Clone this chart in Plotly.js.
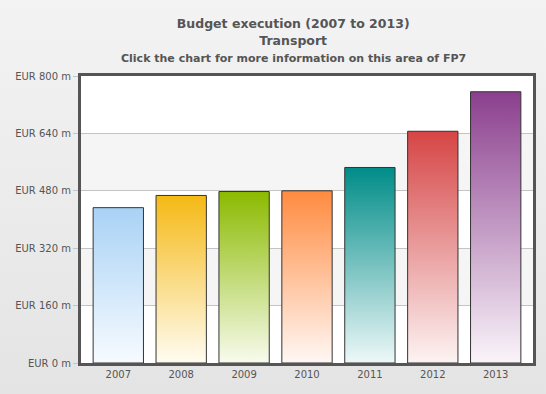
<!DOCTYPE html>
<html><head><meta charset="utf-8">
<script src="https://cdn.plot.ly/plotly-3.0.1.min.js"></script>
<style>
html,body{margin:0;padding:0;}
body{width:546px;height:394px;background:linear-gradient(to bottom,#f3f3f3 0%,#e4e4e4 100%);overflow:hidden;}
#chart{width:546px;height:394px;}
</style></head><body>
<div id="chart"></div>
<script>
const years = ['2007','2008','2009','2010','2011','2012','2013'];
const budget = [433, 467, 478, 480, 545, 646, 756];
const topColors = ['#a9d2f5','#f5b915','#8bba00','#ff8b40','#008c88','#d64545','#8b3f8e'];
const bottomColors = ['#f7fbff','#fffcf2','#f8fbee','#fff8f5','#eef8f8','#fdf3f3','#faf5fa'];
const yTicks = [0,160,320,480,640,800];
const yTickLabels = ['EUR 0 m','EUR 160 m','EUR 320 m','EUR 480 m','EUR 640 m','EUR 800 m'];

const bandShapes = [];
for (let i = 0; i < yTicks.length - 1; i++) {
  if (i % 2 === 1) {
    bandShapes.push({type:'rect', xref:'paper', yref:'y', x0:0, x1:1, y0:yTicks[i], y1:yTicks[i+1],
      fillcolor:'#f5f5f5', line:{width:0}, layer:'below'});
  }
}

const trace = {
  type:'bar', x:years, y:budget,
  marker:{color:topColors, line:{color:'#333333', width:1}},
  width:0.8, hoverinfo:'x+y'
};

const layout = {
  width:546, height:394,
  paper_bgcolor:'rgba(0,0,0,0)', plot_bgcolor:'#ffffff',
  margin:{l:81, r:13, t:76, b:31},
  font:{family:'DejaVu Sans, Verdana, sans-serif', color:'#555555', size:10},
  title:{text:'<b>Budget execution (2007 to 2013)</b><br><b>Transport</b>',
    font:{size:12.5, color:'#555555'}, x:0.537, xanchor:'center', y:0.928, yanchor:'top', yref:'container'},
  annotations:[{text:'<b>Click the chart for more information on this area of FP7</b>',
    xref:'paper', yref:'paper', x:0.471, y:1.06, xanchor:'center', yanchor:'middle',
    showarrow:false, font:{size:11, color:'#555555'}}],
  xaxis:{type:'category', range:[-0.593, 6.593], showgrid:false, ticks:'', showline:true, mirror:true,
    linecolor:'#555555', linewidth:3, tickfont:{size:10, color:'#555555'}, fixedrange:true},
  yaxis:{range:[0,800], tickmode:'array', tickvals:yTicks, ticktext:yTickLabels, showgrid:true,
    gridcolor:'#c4c4c4', gridwidth:1, ticks:'outside', ticklen:5, tickcolor:'#c4c4c4',
    showline:true, mirror:true, linecolor:'#555555', linewidth:3, zeroline:false,
    tickfont:{size:10, color:'#555555'}, fixedrange:true},
  shapes:bandShapes,
  bargap:0.2, showlegend:false
};

Plotly.newPlot('chart',[trace],layout,{displayModeBar:false, staticPlot:true}).then(gd=>{
  const svg = gd.querySelector('svg.main-svg');
  let defs = svg.querySelector('defs');
  if (!defs) { defs = document.createElementNS('http://www.w3.org/2000/svg','defs'); svg.insertBefore(defs, svg.firstChild); }
  const paths = gd.querySelectorAll('.barlayer .trace .point path');
  paths.forEach((p,i)=>{
    const id = 'barGrad'+i;
    const g = document.createElementNS('http://www.w3.org/2000/svg','linearGradient');
    g.setAttribute('id', id); g.setAttribute('x1','0'); g.setAttribute('y1','0'); g.setAttribute('x2','0'); g.setAttribute('y2','1');
    const s1 = document.createElementNS('http://www.w3.org/2000/svg','stop');
    s1.setAttribute('offset','0'); s1.setAttribute('stop-color', topColors[i]);
    const s2 = document.createElementNS('http://www.w3.org/2000/svg','stop');
    s2.setAttribute('offset','1'); s2.setAttribute('stop-color', bottomColors[i]);
    g.appendChild(s1); g.appendChild(s2); defs.appendChild(g);
    p.style.fill = 'url(#'+id+')';
  });
});
</script></body></html>
